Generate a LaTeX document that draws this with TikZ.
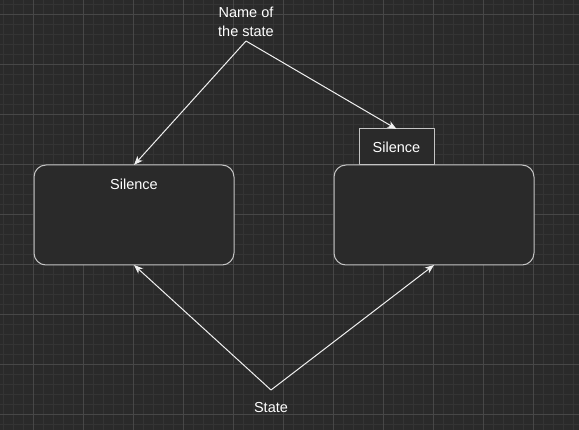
\documentclass[tikz,border=0pt]{standalone}
\usepackage{fontspec}
\setmainfont{Liberation Sans}
\usetikzlibrary{arrows.meta}
\definecolor{canvas}{HTML}{2A2A2A}
\definecolor{gridminor}{HTML}{343434}
\definecolor{gridmajor}{HTML}{474747}
\definecolor{boxline}{HTML}{C4C4C4}
\definecolor{wireline}{HTML}{F0F0F0}
\tikzset{>={Stealth[length=9pt, width=7pt, inset=2.5pt]}}

\begin{document}
\begin{tikzpicture}[x=1pt, y=-1pt, line join = round,
    statebox/.style = {draw = boxline, line width = 1pt, fill = canvas, rounded corners = 12pt,
        minimum width = 200pt, minimum height = 100pt, inner sep = 0pt, outer sep = 0pt},
    tabbox/.style = {draw = boxline, line width = 1pt, fill = canvas,
        minimum width = 75pt, minimum height = 36pt, inner sep = 0pt, outer sep = 0pt},
    label/.style = {text = white, font = \fontsize{14.5}{18.5}\selectfont, inner sep = 0pt, align = center},
    wire/.style = {->, draw = wireline, line width = 1pt}]
    \fill[canvas] (0,0) rectangle (579,430);
    \useasboundingbox (0,0) rectangle (579,430);
    % grid
    \foreach \x in {3,13,...,573} \draw[gridminor, line width = 1pt] (\x,0) -- (\x,430);
    \foreach \y in {5,15,...,425} \draw[gridminor, line width = 1pt] (0,\y) -- (579,\y);
    \foreach \x in {33,83,...,533} \draw[gridmajor, line width = 1pt] (\x,0) -- (\x,430);
    \foreach \y in {15,65,...,415} \draw[gridmajor, line width = 1pt] (0,\y) -- (579,\y);

    \node[statebox] (leftbox) at (134,215) {};
    \node[label] (leftname) at (134,184) {Silence};
    \node[statebox] (rightbox) at (434,215) {};
    \node[tabbox] (tab) at (396.5,147) {};
    \node[label] (tabname) at (396.5,147) {Silence};

    \node[label] (namelabel) at (246,22) {Name of\\the state};
    \node[label] (statelabel) at (271,408) {State};
    \coordinate (namefork) at (246,41);
    \coordinate (statefork) at (271,390);

    \draw[wire] (namefork) -- (leftbox.north);
    \draw[wire] (namefork) -- (tab.north);
    \draw[wire] (statefork) -- (leftbox.south);
    \draw[wire] (statefork) -- (rightbox.south);

\end{tikzpicture}
\end{document}
